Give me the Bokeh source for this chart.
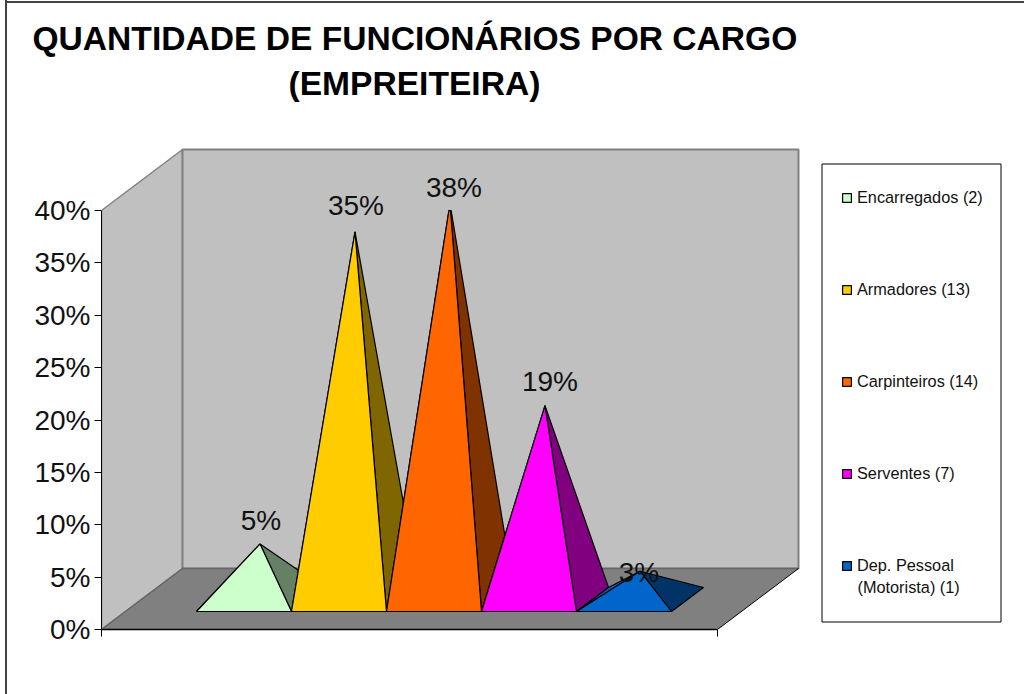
from bokeh.plotting import figure
from bokeh.models import (Range1d, FixedTicker, PrintfTickFormatter, Legend, LegendItem,
                          Label, Title, BoxAnnotation, ColumnDataSource)
from bokeh.core.properties import value
from bokeh.embed import file_html
from bokeh.resources import INLINE

# ---------- data ----------
categories = ["Encarregados (2)", "Armadores (13)", "Carpinteiros (14)", "Serventes (7)",
              "Dep. Pessoal\n(Motorista) (1)"]
percent_values = [5.3, 35.1, 37.8, 18.5, 2.7]
percent_labels = ["5%", "35%", "38%", "19%", "3%"]
face_colors = ["#CCFFCC", "#FFCC00", "#FF6600", "#FF00FF", "#0066CC"]
side_colors = ["#668066", "#806600", "#803300", "#800080", "#003366"]
y_ticks = [0, 5, 10, 15, 20, 25, 30, 35, 40]
title_lines = ["QUANTIDADE DE FUNCIONÁRIOS POR CARGO", "(EMPREITEIRA)"]

# ---------- scale constants (pixels per data unit) ----------
PX_X, PX_Y = 95.0, 10.475
W, H = 1024, 694
LEFT, BASE, TOP = 101, 629, 103
FONT = value("Liberation Sans")
Y_MAX = 40
x0 = -1.0                          # front-left of the floor
x1 = x0 + 616 / PX_X               # front-right of the floor
WALL_DX, WALL_DY = 81 / PX_X, 61 / PX_Y
BASE_DY = 18 / PX_Y                # pyramid front edge above floor front
PYR_DX, PYR_DY = 32 / PX_X, 24 / PX_Y

# the outer chart frame lies outside the plot frame, so it is painted behind a transparent canvas
frame_css = ("linear-gradient(#444,#444) 5px 0/2px 100% no-repeat,"
             "linear-gradient(#444,#444) 5px 1px/100% 2px no-repeat,white")

p = figure(width=W, height=H, output_backend="svg", toolbar_location=None,
           x_range=Range1d(x0, x0 + (W - LEFT) / PX_X), y_range=Range1d(0, (BASE - TOP) / PX_Y),
           min_border_left=LEFT, min_border_right=0, min_border_top=TOP, min_border_bottom=H - BASE,
           outline_line_color=None, border_fill_color=None, background_fill_color=None,
           styles={"background": frame_css})
p.grid.visible = False

# ---------- title ----------
p.add_layout(Title(text=title_lines[1], align="left", offset=288 - LEFT, standoff=4,
                   text_font="Liberation Sans", text_font_style="bold", text_font_size="33.6px",
                   text_color="black"), "above")
p.add_layout(Title(text=title_lines[0], align="left", offset=32 - LEFT, standoff=7,
                   text_font="Liberation Sans", text_font_style="bold", text_font_size="33.6px",
                   text_color="black"), "above")

# ---------- axes ----------
ya = p.yaxis[0]
ya.ticker = FixedTicker(ticks=y_ticks)
ya.formatter = PrintfTickFormatter(format="%d%%")
ya.bounds = (0, Y_MAX)
ya.major_tick_in, ya.major_tick_out, ya.minor_tick_out, ya.minor_tick_in = 0, 7, 0, 0
ya.major_label_standoff = 4
ya.major_label_text_font = "Liberation Sans"
ya.major_label_text_font_size = "28px"
ya.major_label_text_color = "#111111"
ya.axis_line_color = "black"
xa = p.xaxis[0]
xa.ticker = FixedTicker(ticks=[x0, x1])
xa.bounds = (x0, x1)
xa.major_tick_in, xa.major_tick_out, xa.minor_tick_out, xa.minor_tick_in = 0, 7, 0, 0
xa.major_label_overrides = {x0: "", x1: ""}
xa.axis_line_color = "black"
xa.axis_line_width = 1.5

# ---------- walls and floor ----------
wall_c, edge_c = "#C0C0C0", "#808080"
p.patch([x0, x0 + WALL_DX, x0 + WALL_DX, x0], [0, WALL_DY, WALL_DY + Y_MAX, Y_MAX],
        fill_color=wall_c, line_color=edge_c, line_width=1.5)
p.patch([x0 + WALL_DX, x1 + WALL_DX, x1 + WALL_DX, x0 + WALL_DX],
        [WALL_DY, WALL_DY, WALL_DY + Y_MAX, WALL_DY + Y_MAX],
        fill_color=wall_c, line_color=edge_c, line_width=2)
p.patch([x0, x1, x1 + WALL_DX, x0 + WALL_DX], [0, 0, WALL_DY, WALL_DY],
        fill_color="#808080", line_color=None)
p.line([x0, x0 + WALL_DX, x1 + WALL_DX], [0, WALL_DY, WALL_DY], line_color="#666666", line_width=1.5)
p.line([x1, x1 + WALL_DX], [0, WALL_DY], line_color="black", line_width=1)


def clip(xa_, ya_, xb, yb):
    """Cut an edge going from a base point up to the apex at the axis maximum."""
    if yb <= Y_MAX:
        return xb, yb
    t = (Y_MAX - ya_) / (yb - ya_)
    return xa_ + t * (xb - xa_), Y_MAX


# ---------- pyramids ----------
label_off_x = [1, 1, 4, 5, -1]
label_off_y = [-23, -26, -16, -24, 1]
legend_items = []
apex_x, apex_y = [], []
for i, v in enumerate(percent_values):
    fl, fr = i, i + 1
    yf = BASE_DY
    bl, br = fl + PYR_DX, fr + PYR_DX
    yb = yf + PYR_DY
    ax = i + 0.5 + PYR_DX / 2
    ay = yf + PYR_DY / 2 + v
    apex_x.append(ax)
    apex_y.append(ay)
    lc = clip(fl, yf, ax, ay)
    rc = clip(fr, yf, ax, ay)
    brc = clip(br, yb, ax, ay)
    blc = clip(bl, yb, ax, ay)
    # left face, only visible on very low pyramids
    p.patch([fl, bl, blc[0], lc[0]], [yf, yb, blc[1], lc[1]],
            fill_color=face_colors[i], line_color="black", line_width=1.2)
    p.patch([fr, br, brc[0], rc[0]], [yf, yb, brc[1], rc[1]],
            fill_color=side_colors[i], line_color="black", line_width=1.2)
    front = p.patch([fl, fr, rc[0], lc[0]], [yf, yf, rc[1], lc[1]],
                    fill_color=face_colors[i], line_color="black", line_width=1.2)
    legend_items.append(LegendItem(label=categories[i].split("\n")[0], renderers=[front]))

# ---------- data labels ----------
src = ColumnDataSource(dict(x=apex_x, y=apex_y, t=percent_labels, ox=label_off_x, oy=label_off_y))
p.text("x", "y", text="t", source=src, x_offset="ox", y_offset="oy", text_align="center",
       text_baseline="middle", text_font=FONT, text_font_size="28px", text_color="#111111")

# ---------- legend ----------
p.add_layout(BoxAnnotation(left=821.5, right=1000.5, top=163.5, bottom=621.5, left_units="canvas",
                           right_units="canvas", top_units="canvas", bottom_units="canvas",
                           fill_color="white", fill_alpha=1, line_color="black", line_alpha=1,
                           line_width=1, level="overlay"))
legend = Legend(items=legend_items, location=(841 - LEFT, BASE - 575), orientation="vertical",
                background_fill_alpha=0, border_line_color=None, padding=0, margin=0,
                glyph_width=11, glyph_height=11, label_standoff=5, spacing=73,
                label_text_font="Liberation Sans", label_text_font_size="16.3px",
                label_text_color="#111111", label_height=18)
p.add_layout(legend, "center")
p.add_layout(Label(x=857, y=586, x_units="canvas", y_units="canvas", text=categories[4].split("\n")[1],
                   text_baseline="middle", text_font="Liberation Sans", text_font_size="16.3px",
                   text_color="#111111", level="overlay"))

open("out.html", "w").write(file_html(p, INLINE))
